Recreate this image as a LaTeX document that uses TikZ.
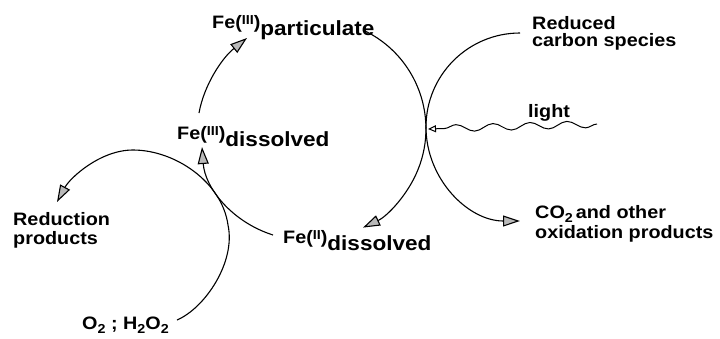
\documentclass[tikz,border=0pt]{standalone}
\usepackage{fontspec}
\setmainfont{Liberation Sans}[UprightFont=*-Bold,FakeStretch=1.1]
\usetikzlibrary{arrows.meta,decorations.pathmorphing}

% oxidation state set small and raised, phase set lowered
\newcommand\oxstate[1]{\raisebox{3.6pt}{\fontsize{13}{13}\selectfont #1}}
\newcommand\phase[1]{\raisebox{-7pt}{\fontsize{20.5}{20.5}\selectfont #1}}
\newcommand\subtwo{\raisebox{-4pt}{\fontsize{13}{13}\selectfont 2}}

\begin{document}
\begin{tikzpicture}[x=1pt,y=-1pt,
  lbl/.style={inner sep=0pt, anchor=base west, font=\fontsize{18}{20}\selectfont},
  mlbl/.style={inner sep=0pt, anchor=north west, align=left},
  flow/.style={line width=1.1pt},
  head/.style={-{Triangle[length=17pt,width=11pt,fill=gray!55]}},
]
\useasboundingbox (0,0) rectangle (720,338);

% labels
\node[lbl] (fepart) at (212,28) {Fe(\oxstate{III})\phase{particulate}};
\node[lbl] (fediss3) at (177,139) {Fe(\oxstate{III})\phase{dissolved}};
\node[lbl] (fediss2) at (283,243) {Fe(\oxstate{II})\phase{dissolved}};
\node[mlbl, font=\fontsize{18}{17}\selectfont] (reduced) at (532,16) {Reduced\\carbon species};
\node[lbl] (light) at (528,117) {light};
\node[mlbl, font=\fontsize{18}{19}\selectfont] (reduction) at (13,212) {Reduction\\products};
\node[mlbl, font=\fontsize{18}{20}\selectfont] (co2) at (535,205) {CO\subtwo{}\,and other\\oxidation products};
\node[lbl] (o2) at (82,329) {O\subtwo{} ; H\subtwo O\subtwo};

% connector end points
\coordinate (carbstart) at (520,33);
\coordinate (partend) at (363,30);
\coordinate (diss3top) at (199,113);
\coordinate (partarrow) at (247,38);
\coordinate (diss2left) at (273,235);
\coordinate (diss3arrow) at (202,147);
\coordinate (o2end) at (177,320);
\coordinate (redarrow) at (57,202);
\coordinate (lightstart) at (597,124);
\coordinate (lighttip) at (428,129);

% reduced carbon -> CO2
\draw[flow, head] (carbstart) arc[start angle=270, end angle=90, radius=94];
% Fe(III) particulate -> Fe(II) dissolved
\draw[flow, head] (partend) arc[start angle=-65, end angle=65, radius=109];
% Fe(III) dissolved -> Fe(III) particulate
\draw[flow, head] (diss3top) .. controls (204,85) and (222,58) .. (partarrow);
% Fe(II) dissolved -> Fe(III) dissolved
\draw[flow, head] (diss2left) .. controls (232,222) and (205,188) .. (diss3arrow);
% O2 ; H2O2 -> reduction products
\draw[flow, head] (o2end) .. controls (205,308) and (236,262) .. (228,225)
  .. controls (222,182) and (175,150) .. (133,150)
  .. controls (100,150) and (70,178) .. (redarrow);
% light
\draw[line width=1pt, -{Triangle[open,length=8pt,width=7pt,fill=white]},
  decorate, decoration={snake, amplitude=3.5pt, segment length=37pt, post length=14pt}]
  (lightstart) -- (lighttip);
\end{tikzpicture}
\end{document}
